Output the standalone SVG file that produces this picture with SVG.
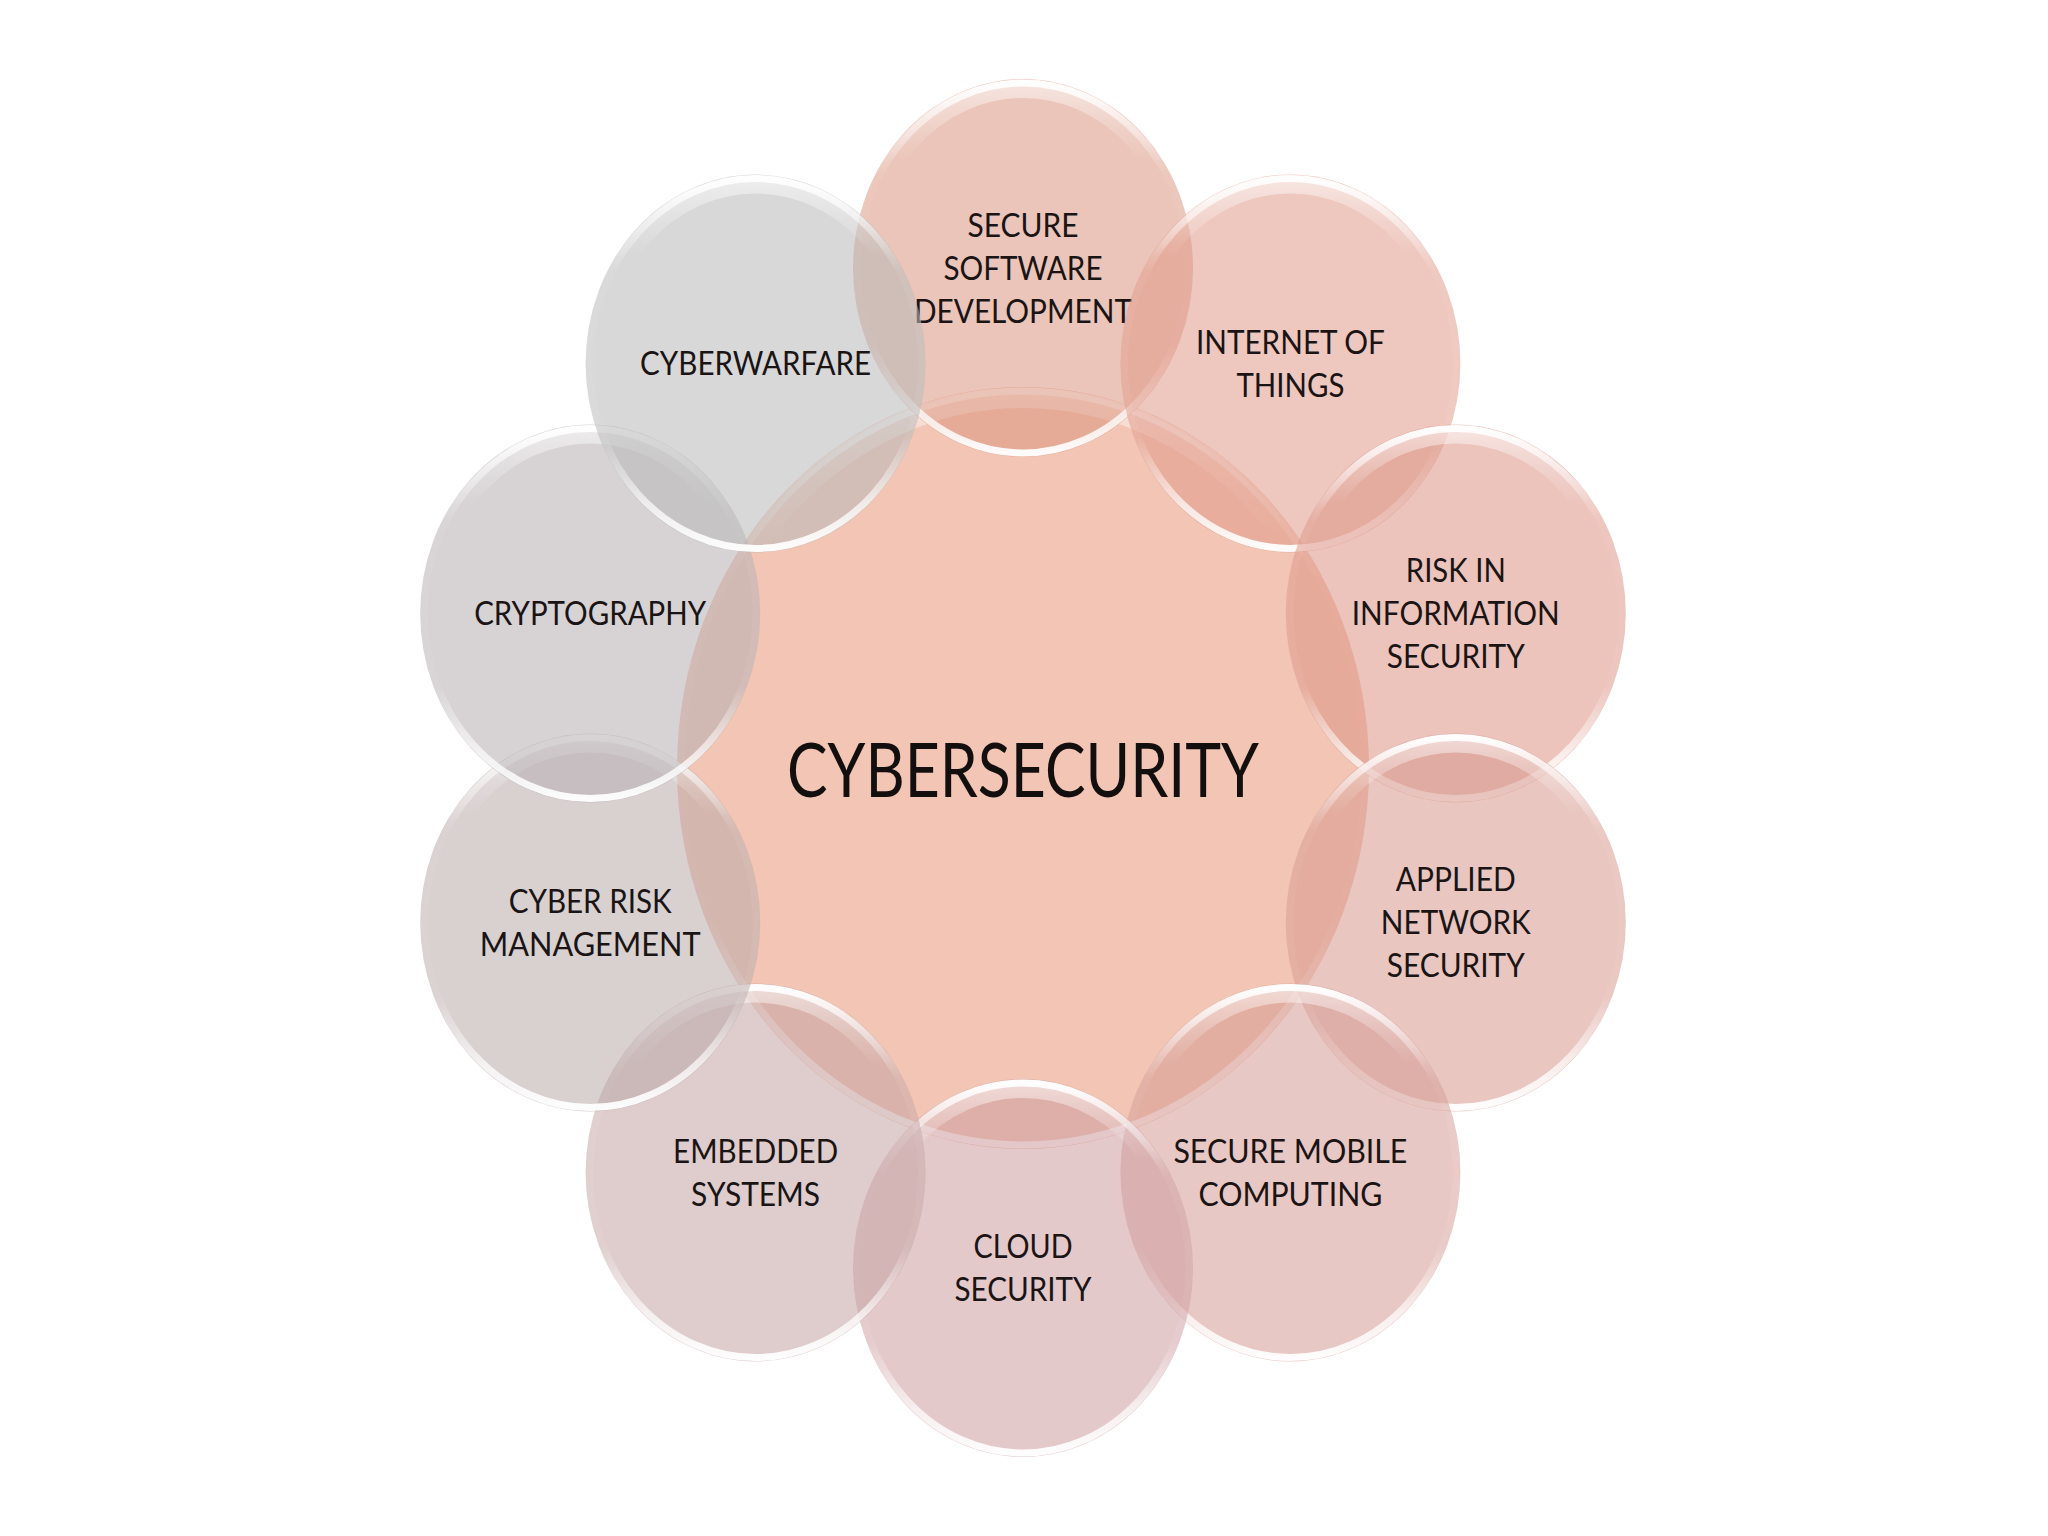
<svg xmlns="http://www.w3.org/2000/svg" width="2048" height="1536" viewBox="0 0 2048 1536">
<defs>
<linearGradient id="rim" x1="0" y1="0" x2="0" y2="1">
<stop offset="0" stop-color="#ffffff" stop-opacity="0.95"/>
<stop offset="0.1" stop-color="#ffffff" stop-opacity="0.55"/>
<stop offset="0.25" stop-color="#ffffff" stop-opacity="0.05"/>
<stop offset="0.7" stop-color="#ffffff" stop-opacity="0.05"/>
<stop offset="0.88" stop-color="#ffffff" stop-opacity="0.7"/>
<stop offset="1" stop-color="#ffffff" stop-opacity="0.95"/>
</linearGradient>
<linearGradient id="gloss" x1="0" y1="0" x2="0" y2="1">
<stop offset="0" stop-color="#ffffff" stop-opacity="0.5"/>
<stop offset="0.12" stop-color="#ffffff" stop-opacity="0.18"/>
<stop offset="0.2" stop-color="#ffffff" stop-opacity="0"/>
<stop offset="1" stop-color="#ffffff" stop-opacity="0"/>
</linearGradient>
</defs>
<style>
.bg{fill:#ffffff}
.out{fill-opacity:0.55}
.rim{fill:none;stroke:url(#rim);stroke-width:7}
.gloss{fill:none;stroke:url(#gloss);stroke-width:18}
.lbl{font-family:Lato,"Open Sans","Liberation Sans",sans-serif;font-size:32px;fill:#1a1414;text-anchor:middle}
.title{font-family:Lato,"Open Sans","Liberation Sans",sans-serif;font-size:75px;fill:#140f0f;text-anchor:middle}
</style>
<rect class="bg" x="0" y="0" width="2048" height="1536"/>

<g id="center-node">
<ellipse cx="1023" cy="768" rx="346" ry="381" fill="#F2C5B4"/>
<ellipse class="gloss" cx="1023" cy="768" rx="334" ry="369"/>
<ellipse class="rim" cx="1023" cy="768" rx="342" ry="377"/>
<text class="title" x="1023" y="797" textLength="472" lengthAdjust="spacingAndGlyphs">CYBERSECURITY</text>
</g>

<g id="node-secure-software-development">
<ellipse class="out" cx="1023" cy="268" rx="170" ry="189" fill="#DA957F"/>
<ellipse class="gloss" cx="1023" cy="268" rx="160" ry="179"/>
<ellipse class="rim" cx="1023" cy="268" rx="166" ry="185"/>
<text class="lbl" x="1023" y="236.5" textLength="111" lengthAdjust="spacingAndGlyphs">SECURE</text>
<text class="lbl" x="1023" y="279.5" textLength="159" lengthAdjust="spacingAndGlyphs">SOFTWARE</text>
<text class="lbl" x="1023" y="322.5" textLength="218" lengthAdjust="spacingAndGlyphs">DEVELOPMENT</text>
</g>

<g id="node-internet-of-things">
<ellipse class="out" cx="1290.4" cy="363.5" rx="170" ry="189" fill="#E09989"/>
<ellipse class="gloss" cx="1290.4" cy="363.5" rx="160" ry="179"/>
<ellipse class="rim" cx="1290.4" cy="363.5" rx="166" ry="185"/>
<text class="lbl" x="1290.4" y="353.5" textLength="189" lengthAdjust="spacingAndGlyphs">INTERNET OF</text>
<text class="lbl" x="1290.4" y="396.5" textLength="108" lengthAdjust="spacingAndGlyphs">THINGS</text>
</g>

<g id="node-risk-in-information-security">
<ellipse class="out" cx="1455.8" cy="613.5" rx="170" ry="189" fill="#DD9485"/>
<ellipse class="gloss" cx="1455.8" cy="613.5" rx="160" ry="179"/>
<ellipse class="rim" cx="1455.8" cy="613.5" rx="166" ry="185"/>
<text class="lbl" x="1455.8" y="582" textLength="100" lengthAdjust="spacingAndGlyphs">RISK IN</text>
<text class="lbl" x="1455.8" y="625" textLength="208" lengthAdjust="spacingAndGlyphs">INFORMATION</text>
<text class="lbl" x="1455.8" y="668" textLength="138" lengthAdjust="spacingAndGlyphs">SECURITY</text>
</g>

<g id="node-applied-network-security">
<ellipse class="out" cx="1455.8" cy="922.5" rx="170" ry="189" fill="#D7978C"/>
<ellipse class="gloss" cx="1455.8" cy="922.5" rx="160" ry="179"/>
<ellipse class="rim" cx="1455.8" cy="922.5" rx="166" ry="185"/>
<text class="lbl" x="1455.8" y="891" textLength="120" lengthAdjust="spacingAndGlyphs">APPLIED</text>
<text class="lbl" x="1455.8" y="934" textLength="150" lengthAdjust="spacingAndGlyphs">NETWORK</text>
<text class="lbl" x="1455.8" y="977" textLength="138" lengthAdjust="spacingAndGlyphs">SECURITY</text>
</g>

<g id="node-secure-mobile-computing">
<ellipse class="out" cx="1290.4" cy="1172.5" rx="170" ry="189" fill="#D59B94"/>
<ellipse class="gloss" cx="1290.4" cy="1172.5" rx="160" ry="179"/>
<ellipse class="rim" cx="1290.4" cy="1172.5" rx="166" ry="185"/>
<text class="lbl" x="1290.4" y="1162.5" textLength="234" lengthAdjust="spacingAndGlyphs">SECURE MOBILE</text>
<text class="lbl" x="1290.4" y="1205.5" textLength="184" lengthAdjust="spacingAndGlyphs">COMPUTING</text>
</g>

<g id="node-cloud-security">
<ellipse class="out" cx="1023" cy="1268" rx="170" ry="189" fill="#CE9DA0"/>
<ellipse class="gloss" cx="1023" cy="1268" rx="160" ry="179"/>
<ellipse class="rim" cx="1023" cy="1268" rx="166" ry="185"/>
<text class="lbl" x="1023" y="1258" textLength="99" lengthAdjust="spacingAndGlyphs">CLOUD</text>
<text class="lbl" x="1023" y="1301" textLength="137" lengthAdjust="spacingAndGlyphs">SECURITY</text>
</g>

<g id="node-embedded-systems">
<ellipse class="out" cx="755.6" cy="1172.5" rx="170" ry="189" fill="#C5A4A4"/>
<ellipse class="gloss" cx="755.6" cy="1172.5" rx="160" ry="179"/>
<ellipse class="rim" cx="755.6" cy="1172.5" rx="166" ry="185"/>
<text class="lbl" x="755.6" y="1162.5" textLength="165" lengthAdjust="spacingAndGlyphs">EMBEDDED</text>
<text class="lbl" x="755.6" y="1205.5" textLength="129" lengthAdjust="spacingAndGlyphs">SYSTEMS</text>
</g>

<g id="node-cyber-risk-management">
<ellipse class="out" cx="590.2" cy="922.5" rx="170" ry="189" fill="#BAAAAA"/>
<ellipse class="gloss" cx="590.2" cy="922.5" rx="160" ry="179"/>
<ellipse class="rim" cx="590.2" cy="922.5" rx="166" ry="185"/>
<text class="lbl" x="590.2" y="912.5" textLength="163" lengthAdjust="spacingAndGlyphs">CYBER RISK</text>
<text class="lbl" x="590.2" y="955.5" textLength="221" lengthAdjust="spacingAndGlyphs">MANAGEMENT</text>
</g>

<g id="node-cryptography">
<ellipse class="out" cx="590.2" cy="613.5" rx="170" ry="189" fill="#B6AFB3"/>
<ellipse class="gloss" cx="590.2" cy="613.5" rx="160" ry="179"/>
<ellipse class="rim" cx="590.2" cy="613.5" rx="166" ry="185"/>
<text class="lbl" x="590.2" y="625" textLength="232" lengthAdjust="spacingAndGlyphs">CRYPTOGRAPHY</text>
</g>

<g id="node-cyberwarfare">
<ellipse class="out" cx="755.6" cy="363.5" rx="170" ry="189" fill="#B8B8B8"/>
<ellipse class="gloss" cx="755.6" cy="363.5" rx="160" ry="179"/>
<ellipse class="rim" cx="755.6" cy="363.5" rx="166" ry="185"/>
<text class="lbl" x="755.6" y="375" textLength="231" lengthAdjust="spacingAndGlyphs">CYBERWARFARE</text>
</g>

<g id="connectors"/>
</svg>
